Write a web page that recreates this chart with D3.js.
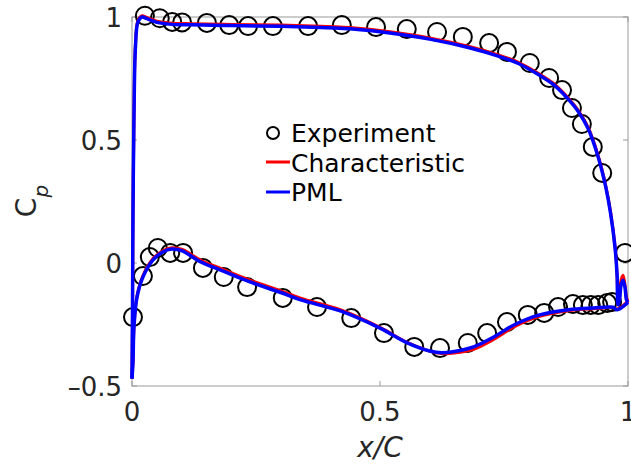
<!DOCTYPE html>
<html>
<head>
<meta charset="utf-8">
<script src="https://cdn.jsdelivr.net/npm/d3@7"></script>
<style>
body{margin:0;background:#fff;}
text{font-family:"DejaVu Sans",sans-serif;}
</style>
</head>
<body>
<svg id="chart" width="631" height="468"></svg>
<script>
// 数据
var xTicks=[0,0.5,1];
var yTicks=[-0.5,0,0.5,1];
var xTickLabels=["0","0.5","1"];
var yTickLabels=["\u20130.5","0","0.5","1"];

// 实验点 (x/C, Cp)
var expUpper=[[0.026,1.005],[0.056,0.995],[0.081,0.98],[0.101,0.978],[0.151,0.976],[0.196,0.967],
  [0.234,0.963],[0.284,0.963],[0.355,0.963],[0.423,0.967],[0.492,0.959],[0.554,0.951],[0.615,0.939],
  [0.667,0.919],[0.72,0.894],[0.756,0.858],[0.802,0.813],[0.841,0.752],[0.867,0.703],[0.887,0.63],
  [0.907,0.565],[0.929,0.472],[0.948,0.366],[0.994,0.041]];
var expLower=[[0.002,-0.22],[0.022,-0.053],[0.036,0.024],[0.052,0.061],[0.077,0.041],[0.103,0.041],
  [0.143,-0.02],[0.185,-0.057],[0.232,-0.098],[0.304,-0.142],[0.373,-0.179],[0.442,-0.224],
  [0.508,-0.285],[0.569,-0.341],[0.621,-0.346],[0.677,-0.325],[0.716,-0.285],[0.756,-0.24],
  [0.798,-0.211],[0.831,-0.203],[0.859,-0.179],[0.889,-0.167],[0.909,-0.171],[0.925,-0.171],
  [0.94,-0.171],[0.958,-0.163],[0.968,-0.159]];

// PML
var pmlUpper=[[0,-0.47],[0.001,-0.2],[0.002,0.2],[0.004,0.6],[0.007,0.88],[0.012,0.98],[0.02,1.0],
  [0.03,0.993],[0.05,0.978],[0.08,0.97],[0.12,0.968],[0.2,0.965],[0.3,0.962],[0.38,0.957],[0.45,0.95],
  [0.52,0.935],[0.6,0.91],[0.68,0.875],[0.74,0.84],[0.78,0.81],[0.82,0.765],[0.85,0.725],[0.88,0.665],
  [0.9,0.615],[0.92,0.545],[0.94,0.43],[0.955,0.31],[0.965,0.2],[0.974,0.06],[0.978,-0.05],[0.98,-0.17],
  [0.983,-0.15],[0.986,-0.09],[0.99,-0.07],[0.994,-0.1],[0.997,-0.15],[1.0,-0.16]];
var pmlLower=[[0,-0.47],[0.002,-0.4],[0.004,-0.26],[0.01,-0.14],[0.022,-0.057],[0.042,0.012],
  [0.062,0.045],[0.08,0.057],[0.1,0.05],[0.14,0.003],[0.18,-0.03],[0.235,-0.075],[0.3,-0.12],
  [0.34,-0.15],[0.42,-0.195],[0.5,-0.265],[0.555,-0.325],[0.6,-0.358],[0.625,-0.365],[0.65,-0.36],
  [0.69,-0.34],[0.73,-0.3],[0.77,-0.252],[0.82,-0.212],[0.88,-0.19],[0.93,-0.183],[0.97,-0.18],
  [0.978,-0.19],[1.0,-0.16]];

// Characteristic
var chUpper=[[0,-0.47],[0.001,-0.2],[0.002,0.2],[0.004,0.6],[0.007,0.89],[0.012,0.985],[0.02,1.005],
  [0.03,0.998],[0.05,0.983],[0.08,0.975],[0.12,0.973],[0.2,0.97],[0.3,0.967],[0.38,0.962],[0.45,0.955],
  [0.52,0.94],[0.6,0.915],[0.68,0.88],[0.74,0.845],[0.78,0.815],[0.82,0.77],[0.85,0.73],[0.88,0.67],
  [0.9,0.62],[0.92,0.55],[0.94,0.435],[0.955,0.315],[0.965,0.205],[0.974,0.065],[0.978,-0.05],[0.98,-0.17],
  [0.983,-0.13],[0.986,-0.07],[0.99,-0.05],[0.994,-0.09],[0.997,-0.14],[1.0,-0.155]];
var chLower=[[0,-0.47],[0.002,-0.4],[0.004,-0.26],[0.01,-0.135],[0.022,-0.052],[0.042,0.017],
  [0.062,0.05],[0.08,0.062],[0.1,0.056],[0.14,0.01],[0.18,-0.023],[0.235,-0.068],[0.3,-0.113],
  [0.34,-0.143],[0.42,-0.19],[0.5,-0.262],[0.555,-0.323],[0.6,-0.358],[0.625,-0.368],[0.65,-0.366],
  [0.69,-0.35],[0.73,-0.31],[0.77,-0.26],[0.82,-0.218],[0.88,-0.194],[0.93,-0.186],[0.97,-0.182],
  [0.978,-0.188],[1.0,-0.155]];

var legendNames=["Experiment","Characteristic","PML"];
var colors={exp:"#000",ch:"#ff0000",pml:"#0000ff"};

var svg=d3.select("#chart");
var ax_l=132,ax_r=628,ax_t=17,ax_b=386;
var scale_x=d3.scaleLinear().domain([0,1]).range([ax_l,ax_r]);
var scale_y=d3.scaleLinear().domain([-0.5,1]).range([ax_b,ax_t]);

// 坐标框
svg.append("rect")
  .attr("x",ax_l).attr("y",ax_t)
  .attr("width",ax_r-ax_l).attr("height",ax_b-ax_t)
  .attr("fill","none").attr("stroke","#9a9a9a").attr("stroke-width",1);

var tickLen=5;
xTicks.forEach(function(t){
  var x=scale_x(t);
  svg.append("line").attr("x1",x).attr("x2",x).attr("y1",ax_b).attr("y2",ax_b-tickLen).attr("stroke","#9a9a9a");
  svg.append("line").attr("x1",x).attr("x2",x).attr("y1",ax_t).attr("y2",ax_t+tickLen).attr("stroke","#9a9a9a");
});
yTicks.forEach(function(t){
  var y=scale_y(t);
  svg.append("line").attr("x1",ax_l).attr("x2",ax_l+tickLen).attr("y1",y).attr("y2",y).attr("stroke","#9a9a9a");
  svg.append("line").attr("x1",ax_r).attr("x2",ax_r-tickLen).attr("y1",y).attr("y2",y).attr("stroke","#9a9a9a");
});

svg.selectAll(".xtl").data(xTicks).enter().append("text")
  .attr("x",function(d){return scale_x(d);})
  .attr("y",ax_b+35)
  .attr("text-anchor","middle")
  .attr("font-size",26)
  .attr("fill","#262626")
  .text(function(d,i){return xTickLabels[i];});
svg.selectAll(".ytl").data(yTicks).enter().append("text")
  .attr("x",ax_l-10)
  .attr("y",function(d){return scale_y(d)+9.5;})
  .attr("text-anchor","end")
  .attr("font-size",26)
  .attr("fill","#262626")
  .text(function(d,i){return yTickLabels[i];});

// 轴标题
var xl=svg.append("text").attr("x",380).attr("y",457).attr("text-anchor","middle")
  .attr("font-size",28).attr("fill","#262626").attr("font-style","italic");
xl.text("x/C");
var yl=svg.append("text").attr("transform","translate(36,201) rotate(-90)")
  .attr("text-anchor","middle").attr("font-size",28).attr("fill","#262626");
yl.append("tspan").text("C");
yl.append("tspan").attr("font-size",20).attr("dy",12).attr("font-style","italic").text("p");

// 实验点
var allExp=expUpper.concat(expLower);
svg.selectAll(".exp").data(allExp).enter().append("circle")
  .attr("cx",function(d){return scale_x(d[0]);})
  .attr("cy",function(d){return scale_y(d[1]);})
  .attr("r",9)
  .attr("fill","none")
  .attr("stroke","#000")
  .attr("stroke-width",2);

var line=d3.line()
  .x(function(d){return scale_x(d[0]);})
  .y(function(d){return scale_y(d[1]);})
  .curve(d3.curveCatmullRom.alpha(0.5));

[chUpper,chLower].forEach(function(s){
  svg.append("path").attr("d",line(s)).attr("fill","none")
    .attr("stroke",colors.ch).attr("stroke-width",3).attr("stroke-linejoin","round");
});
[pmlUpper,pmlLower].forEach(function(s){
  svg.append("path").attr("d",line(s)).attr("fill","none")
    .attr("stroke",colors.pml).attr("stroke-width",3.5).attr("stroke-linejoin","round");
});

// 图例
var lg=svg.append("g");
lg.append("circle").attr("cx",273).attr("cy",133).attr("r",6)
  .attr("fill","none").attr("stroke","#000").attr("stroke-width",2);
lg.append("line").attr("x1",266).attr("x2",290).attr("y1",162).attr("y2",162)
  .attr("stroke",colors.ch).attr("stroke-width",3);
lg.append("line").attr("x1",266).attr("x2",290).attr("y1",192).attr("y2",192)
  .attr("stroke",colors.pml).attr("stroke-width",3);
legendNames.forEach(function(n,i){
  lg.append("text").attr("x",291).attr("y",142+i*29.5)
    .attr("font-size",25).attr("fill","#000").text(n);
});
</script>
</body>
</html>
